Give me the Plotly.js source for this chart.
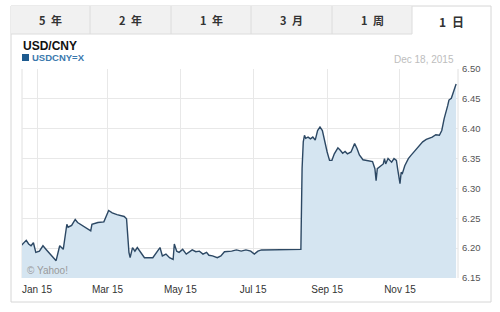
<!DOCTYPE html>
<html><head><meta charset="utf-8">
<script src="https://cdn.plot.ly/plotly-3.0.1.min.js"></script>
<style>html,body{margin:0;padding:0;background:#fff;}#chart{width:500px;height:312px;}</style>
</head><body><div id="chart"></div>
<script>
const dates = ['2014-12-19','2014-12-23','2014-12-25','2014-12-27','2014-12-29','2014-12-31','2015-01-03','2015-01-06','2015-01-09','2015-01-13','2015-01-17','2015-01-20','2015-01-23','2015-01-26','2015-01-27','2015-01-30','2015-02-02','2015-02-04','2015-02-07','2015-02-10','2015-02-12','2015-02-15','2015-02-16','2015-02-21','2015-02-26','2015-03-02','2015-03-05','2015-03-09','2015-03-15','2015-03-17','2015-03-19','2015-03-20','2015-03-22','2015-03-24','2015-03-26','2015-03-29','2015-04-01','2015-04-08','2015-04-11','2015-04-14','2015-04-16','2015-04-19','2015-04-22','2015-04-25','2015-04-26','2015-04-28','2015-04-30','2015-05-03','2015-05-06','2015-05-09','2015-05-11','2015-05-14','2015-05-17','2015-05-20','2015-05-23','2015-05-25','2015-05-28','2015-06-01','2015-06-04','2015-06-07','2015-06-13','2015-06-17','2015-06-21','2015-06-25','2015-06-29','2015-07-02','2015-07-05','2015-07-08','2015-07-13','2015-08-09','2015-08-10','2015-08-11','2015-08-12','2015-08-13','2015-08-14','2015-08-16','2015-08-18','2015-08-20','2015-08-22','2015-08-24','2015-08-26','2015-08-28','2015-08-30','2015-09-01','2015-09-03','2015-09-05','2015-09-07','2015-09-10','2015-09-12','2015-09-14','2015-09-16','2015-09-18','2015-09-21','2015-09-22','2015-09-24','2015-09-26','2015-09-28','2015-10-01','2015-10-05','2015-10-09','2015-10-11','2015-10-12','2015-10-13','2015-10-16','2015-10-18','2015-10-19','2015-10-20','2015-10-22','2015-10-25','2015-10-27','2015-10-29','2015-10-30','2015-11-01','2015-11-02','2015-11-03','2015-11-05','2015-11-08','2015-11-10','2015-11-13','2015-11-16','2015-11-18','2015-11-20','2015-11-23','2015-11-26','2015-11-28','2015-12-01','2015-12-04','2015-12-06','2015-12-08','2015-12-11','2015-12-12','2015-12-14','2015-12-16','2015-12-18'];
const rates = [6.205,6.213,6.207,6.204,6.209,6.193,6.195,6.204,6.197,6.187,6.179,6.204,6.198,6.240,6.235,6.238,6.248,6.243,6.239,6.235,6.232,6.229,6.240,6.243,6.244,6.263,6.259,6.256,6.253,6.249,6.193,6.184,6.201,6.195,6.201,6.193,6.184,6.184,6.193,6.201,6.187,6.190,6.184,6.181,6.207,6.195,6.193,6.198,6.190,6.195,6.197,6.194,6.195,6.190,6.193,6.188,6.187,6.184,6.187,6.194,6.195,6.197,6.195,6.197,6.195,6.190,6.195,6.197,6.197,6.197,6.198,6.333,6.378,6.389,6.384,6.386,6.383,6.386,6.381,6.397,6.403,6.397,6.378,6.361,6.347,6.347,6.358,6.368,6.364,6.359,6.362,6.358,6.361,6.367,6.375,6.367,6.356,6.348,6.347,6.345,6.333,6.313,6.333,6.338,6.341,6.350,6.341,6.350,6.344,6.350,6.347,6.333,6.308,6.327,6.325,6.338,6.350,6.355,6.362,6.369,6.375,6.378,6.382,6.384,6.386,6.390,6.389,6.397,6.417,6.439,6.448,6.451,6.462,6.475];
const tickDates = ['2015-01-01','2015-03-01','2015-05-01','2015-07-01','2015-09-01','2015-11-01'];
const tickLabels = ['Jan 15','Mar 15','May 15','Jul 15','Sep 15','Nov 15'];
const yTicks = [6.15,6.20,6.25,6.30,6.35,6.40,6.45,6.50];
const tabs = ['5\u2002年','2\u2002年','1\u2002年','3\u2002月','1\u2002周','1\u2002日'];
const titleText = 'USD/CNY';
const seriesName = 'USDCNY=X';
const dateText = 'Dec 18, 2015';

const W=500,H=312;
const px=x=>x/W, py=y=>1-y/H;
const shapes=[];
const annotations=[];
shapes.push({type:'rect',xref:'paper',yref:'paper',x0:px(11),x1:px(491),y0:py(302),y1:py(6),line:{color:'#d6d6d6',width:1},fillcolor:'rgba(0,0,0,0)',layer:'below'});
const tabEdges=[11,90,171,251,332,412,491];
shapes.push({type:'rect',xref:'paper',yref:'paper',x0:px(11),x1:px(412),y0:py(34),y1:py(6),line:{width:0},fillcolor:'#f1f1f1',layer:'below'});
shapes.push({type:'line',xref:'paper',yref:'paper',x0:px(11),x1:px(412),y0:py(34),y1:py(34),line:{color:'#dcdcdc',width:1}});
for(let i=1;i<6;i++){
  shapes.push({type:'line',xref:'paper',yref:'paper',x0:px(tabEdges[i]),x1:px(tabEdges[i]),y0:py(34),y1:py(6),line:{color:'#dcdcdc',width:1}});
}
tabs.forEach((t,i)=>{
  const active=i===5;
  annotations.push({xref:'paper',yref:'paper',x:px((tabEdges[i]+tabEdges[i+1])/2),y:py(active?21.5:19.5),text:'<b>'+t+'</b>',showarrow:false,xanchor:'center',yanchor:'middle',font:{family:'Noto Sans CJK SC',size:active?12:11,color:'#333'}});
});
annotations.push({xref:'paper',yref:'paper',x:px(21),y:py(46),text:'<b>'+titleText+'</b>',showarrow:false,xanchor:'left',yanchor:'middle',font:{family:'Liberation Sans',size:12,color:'#111'}});
shapes.push({type:'rect',xref:'paper',yref:'paper',x0:px(22),x1:px(29),y0:py(61),y1:py(54),line:{width:0},fillcolor:'#1d5b8f'});
annotations.push({xref:'paper',yref:'paper',x:px(30),y:py(57.5),text:'<b>'+seriesName+'</b>',showarrow:false,xanchor:'left',yanchor:'middle',font:{family:'Liberation Sans',size:9.5,color:'#3a78ad'}});
annotations.push({xref:'paper',yref:'paper',x:px(456),y:py(59),text:dateText,showarrow:false,xanchor:'right',yanchor:'middle',font:{family:'Liberation Sans',size:10,color:'#bdbdbd'}});
annotations.push({xref:'paper',yref:'paper',x:px(25),y:py(270),text:'© Yahoo!',showarrow:false,xanchor:'left',yanchor:'middle',font:{family:'Liberation Sans',size:10,color:'#9a9a9a'}});
shapes.push({type:'line',xref:'paper',yref:'paper',x0:px(22),x1:px(22),y0:py(278),y1:py(69),line:{color:'#e0e0e0',width:1},layer:'below'});
shapes.push({type:'line',xref:'paper',yref:'paper',x0:px(458),x1:px(458),y0:py(278),y1:py(69),line:{color:'#e0e0e0',width:1},layer:'below'});

const trace={x:dates,y:rates,type:'scatter',mode:'lines',fill:'tozeroy',fillcolor:'#d5e5f1',line:{color:'#2c4864',width:1.4},hoverinfo:'skip'};
const layout={
  width:W,height:H,margin:{l:0,r:0,t:0,b:0},paper_bgcolor:'#fff',plot_bgcolor:'#fff',showlegend:false,
  xaxis:{type:'date',domain:[px(22),px(458)],range:['2014-12-19 10:30','2015-12-19 14:00'],tickmode:'array',tickvals:tickDates,ticktext:tickLabels,showgrid:true,gridcolor:'#e8e8e8',gridwidth:1,zeroline:false,showline:false,ticks:'',tickfont:{family:'Liberation Sans',size:10,color:'#333'},ticklabelstandoff:4,anchor:'y'},
  yaxis:{domain:[py(278),py(69)],range:[6.15,6.50],side:'right',tickmode:'array',tickvals:yTicks,ticktext:yTicks.map(v=>v.toFixed(2)),showgrid:true,gridcolor:'#e8e8e8',zeroline:false,showline:false,ticks:'',tickfont:{family:'Liberation Sans',size:9.5,color:'#555'},ticklabelstandoff:3,anchor:'x'},
  shapes:shapes,annotations:annotations
};
Plotly.newPlot('chart',[trace],layout,{staticPlot:true,displayModeBar:false});
</script></body></html>
